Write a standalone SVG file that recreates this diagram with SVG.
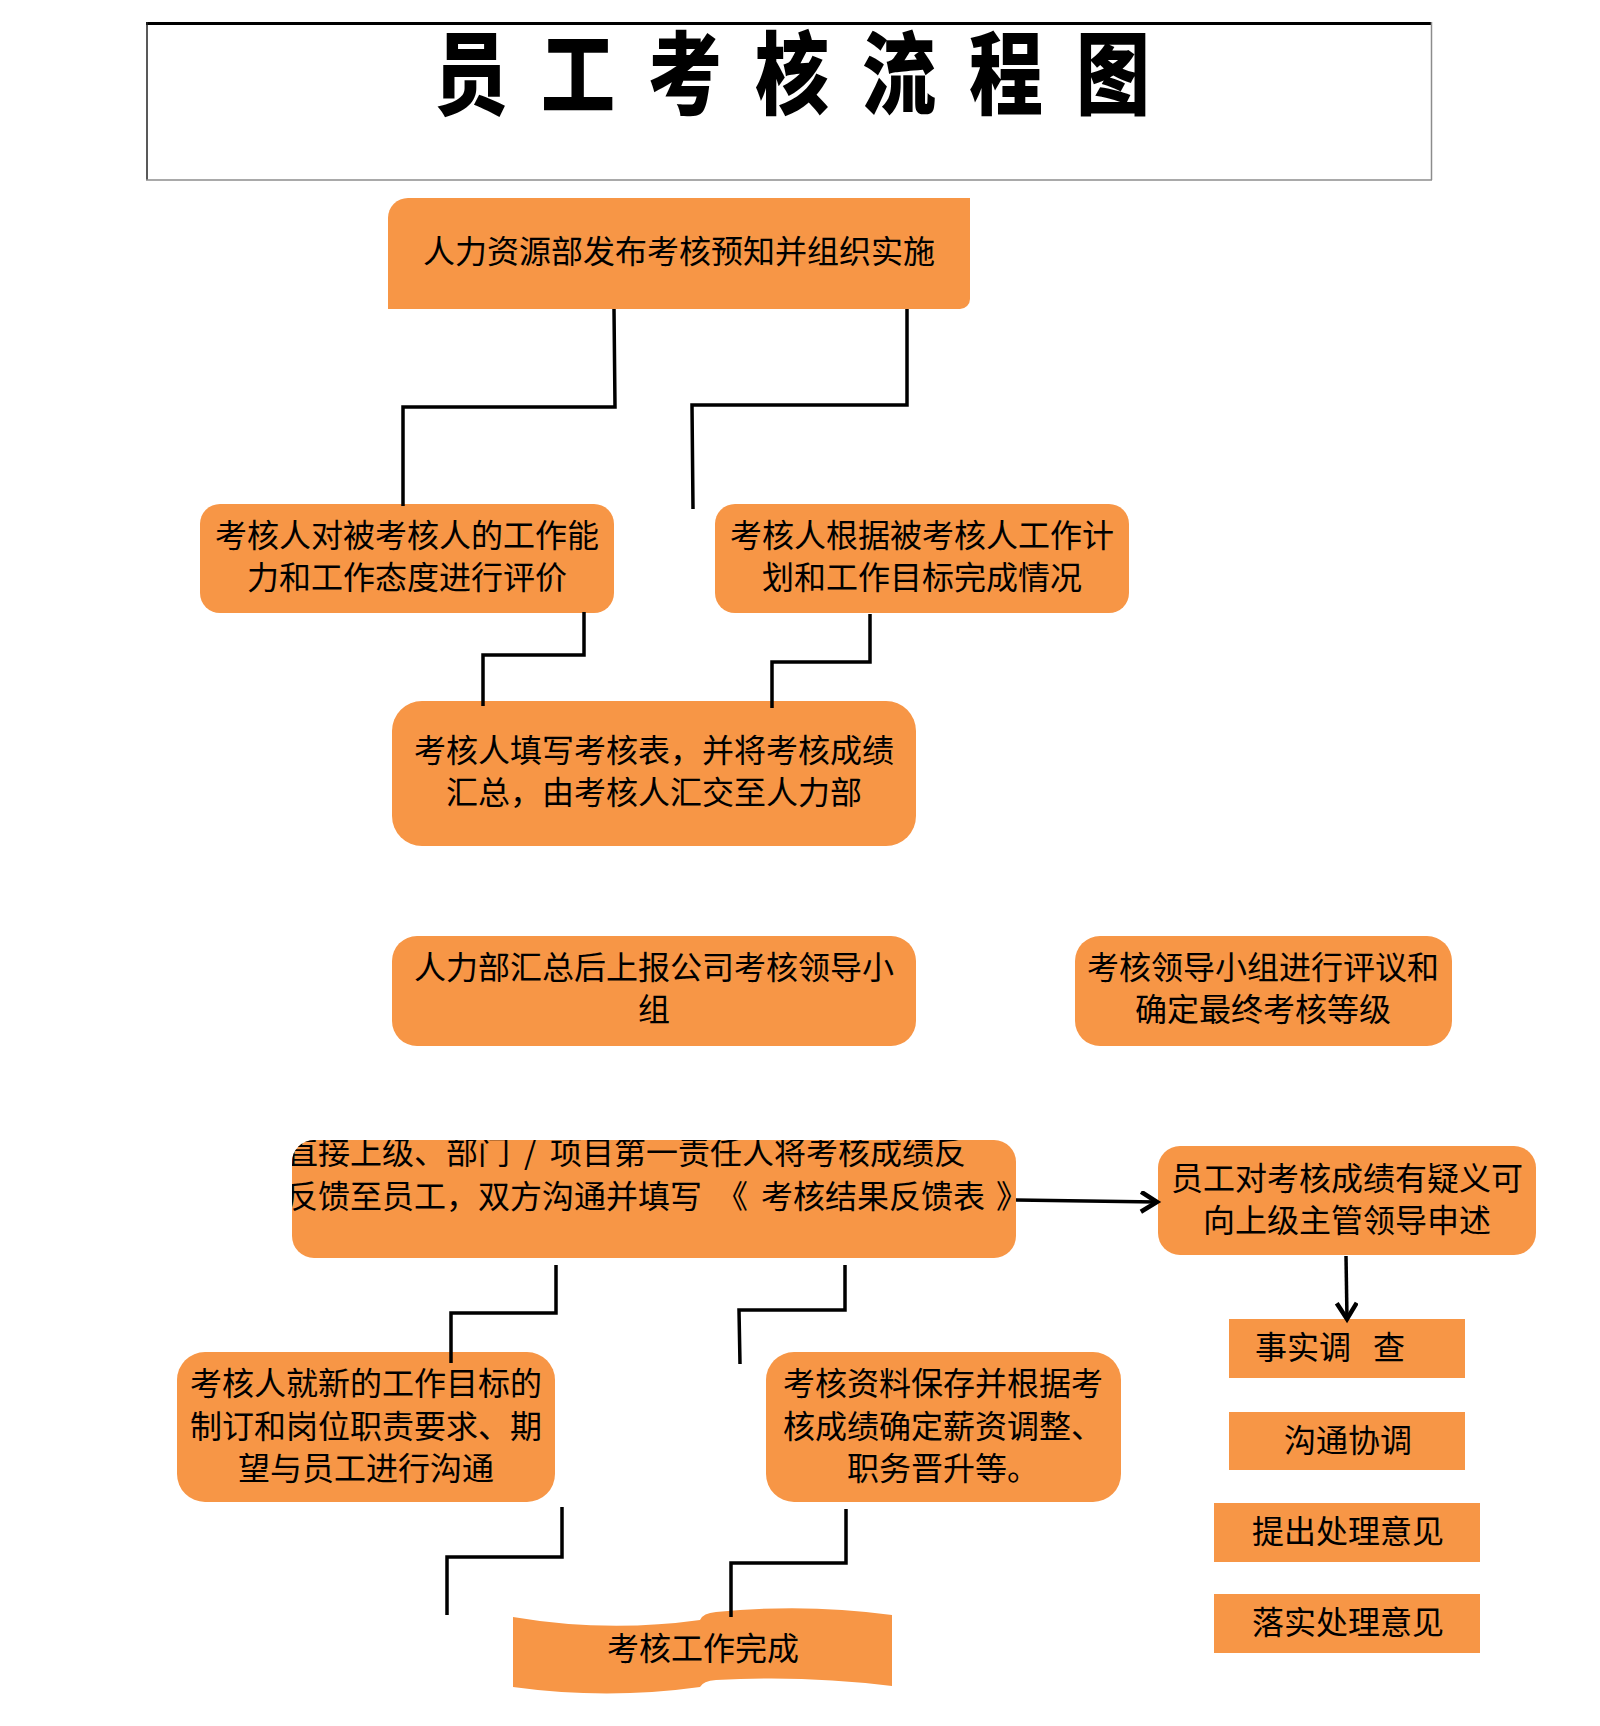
<svg xmlns="http://www.w3.org/2000/svg" width="1600" height="1726" viewBox="0 0 1600 1726">
<defs>
<style>
.box{fill:#F79646;}
.t{font-family:"Noto Sans CJK SC","Liberation Sans",sans-serif;font-size:32px;fill:#000;dominant-baseline:central;}
.c{text-anchor:middle;}
.ln{fill:none;stroke:#000;stroke-width:3.5;stroke-linejoin:miter;stroke-linecap:butt;}
.title{font-family:"Noto Sans CJK SC","Liberation Sans",sans-serif;font-size:74px;font-weight:900;fill:#000;dominant-baseline:central;}
</style>
<marker id="arr" markerUnits="userSpaceOnUse" viewBox="0 0 24 24" markerWidth="24" markerHeight="24" refX="19" refY="11" orient="auto">
<path d="M3,1 L19,11 L3,21" fill="none" stroke="#000" stroke-width="4.5"/>
</marker>
<clipPath id="clip7"><rect x="292" y="1140" width="724" height="118" rx="22" ry="22"/></clipPath>
</defs>
<rect width="1600" height="1726" fill="#fff"/>

<g id="title">
<rect x="146" y="22" width="1286" height="158" fill="#fff"/>
<line x1="146" y1="23.5" x2="1432" y2="23.5" stroke="#000" stroke-width="3"/>
<line x1="147" y1="22" x2="147" y2="180" stroke="#222" stroke-width="1.5"/>
<line x1="1431.5" y1="22" x2="1431.5" y2="180" stroke="#8c8c8c" stroke-width="1.5"/>
<line x1="146" y1="180" x2="1432" y2="180" stroke="#8c8c8c" stroke-width="1.5"/>
<text class="title" transform="translate(0,68) scale(1,1.22)" x="434 541 648 755 862 969 1076" y="0">员工考核流程图</text>
</g>

<g id="n1">
<path class="box" d="M388,218 A20,20 0 0 1 408,198 L970,198 L970,299 A10,10 0 0 1 960,309 L388,309 Z"/>
<text class="t c" x="679" y="249">人力资源部发布考核预知并组织实施</text>
</g>

<g id="n2">
<rect class="box" x="200" y="504" width="414" height="109" rx="20" ry="20"/>
<text class="t c" x="407" y="533">考核人对被考核人的工作能</text>
<text class="t c" x="407" y="575">力和工作态度进行评价</text>
</g>

<g id="n3">
<rect class="box" x="715" y="504" width="414" height="109" rx="20" ry="20"/>
<text class="t c" x="922" y="533">考核人根据被考核人工作计</text>
<text class="t c" x="922" y="575">划和工作目标完成情况</text>
</g>

<g id="n4">
<rect class="box" x="392" y="701" width="524" height="145" rx="30" ry="30"/>
<text class="t c" x="654" y="748">考核人填写考核表，并将考核成绩</text>
<text class="t c" x="654" y="790">汇总，由考核人汇交至人力部</text>
</g>

<g id="n5">
<rect class="box" x="392" y="936" width="524" height="110" rx="25" ry="25"/>
<text class="t c" x="654" y="965">人力部汇总后上报公司考核领导小</text>
<text class="t c" x="654" y="1007">组</text>
</g>

<g id="n6">
<rect class="box" x="1075" y="936" width="377" height="110" rx="25" ry="25"/>
<text class="t c" x="1263" y="965">考核领导小组进行评议和</text>
<text class="t c" x="1263" y="1007">确定最终考核等级</text>
</g>

<g id="n7">
<rect class="box" x="292" y="1140" width="724" height="118" rx="22" ry="22"/>
<g clip-path="url(#clip7)">
<text class="t" y="1150"><tspan x="286">直接上级、部门</tspan><tspan x="524">/</tspan><tspan x="550">项目第一责任人将考核成绩反</tspan></text>
<text class="t" y="1194"><tspan x="286">反馈至员工，双方沟通并填写</tspan><tspan x="716">《</tspan><tspan x="761">考核结果反馈表</tspan><tspan x="996">》</tspan></text>
</g>
</g>

<g id="n8">
<rect class="box" x="1158" y="1146" width="378" height="109" rx="22" ry="22"/>
<text class="t c" x="1347" y="1176">员工对考核成绩有疑义可</text>
<text class="t c" x="1347" y="1218">向上级主管领导申述</text>
</g>

<g id="n9">
<rect class="box" x="1229" y="1319" width="236" height="59"/>
<text class="t" y="1345"><tspan x="1255">事实调</tspan><tspan x="1373">查</tspan></text>
</g>

<g id="n10">
<rect class="box" x="1229" y="1412" width="236" height="58"/>
<text class="t c" x="1348" y="1438">沟通协调</text>
</g>

<g id="n11">
<rect class="box" x="1214" y="1503" width="266" height="59"/>
<text class="t c" x="1348" y="1529">提出处理意见</text>
</g>

<g id="n12">
<rect class="box" x="1214" y="1594" width="266" height="59"/>
<text class="t c" x="1348" y="1620">落实处理意见</text>
</g>

<g id="n13">
<rect class="box" x="177" y="1352" width="378" height="150" rx="28" ry="28"/>
<text class="t c" x="366" y="1381">考核人就新的工作目标的</text>
<text class="t c" x="366" y="1424">制订和岗位职责要求、期</text>
<text class="t c" x="366" y="1466">望与员工进行沟通</text>
</g>

<g id="n14">
<rect class="box" x="766" y="1352" width="355" height="150" rx="28" ry="28"/>
<text class="t c" x="943" y="1381">考核资料保存并根据考</text>
<text class="t c" x="943" y="1424">核成绩确定薪资调整、</text>
<text class="t c" x="943" y="1466">职务晋升等。</text>
</g>

<g id="n15">
<path class="box" d="M513,1617 Q607,1633 700,1620 Q703,1613 716,1612 Q805,1603 892,1615 L892,1686 Q805,1675 716,1680 Q703,1681 700,1687 Q607,1700 513,1687 Z"/>
<text class="t c" x="703" y="1646">考核工作完成</text>
</g>

<g id="connectors">
<path class="ln" d="M614,309 L615,407 L403,407 L403,506"/>
<path class="ln" d="M907,309 L907,405 L692,405 L693,509"/>
<path class="ln" d="M584,612 L584,655 L483,655 L483,706"/>
<path class="ln" d="M870,614 L870,662 L772,662 L772,708"/>
<path class="ln" d="M556,1265 L556,1313 L451,1313 L451,1363"/>
<path class="ln" d="M845,1265 L845,1310 L739,1310 L740,1364"/>
<path class="ln" d="M562,1507 L562,1557 L447,1557 L447,1615"/>
<path class="ln" d="M846,1509 L846,1563 L731,1563 L731,1617"/>
<path class="ln" d="M1016,1200 L1157,1202" marker-end="url(#arr)"/>
<path class="ln" d="M1346,1256 L1347,1319" marker-end="url(#arr)"/>
</g>
</svg>
